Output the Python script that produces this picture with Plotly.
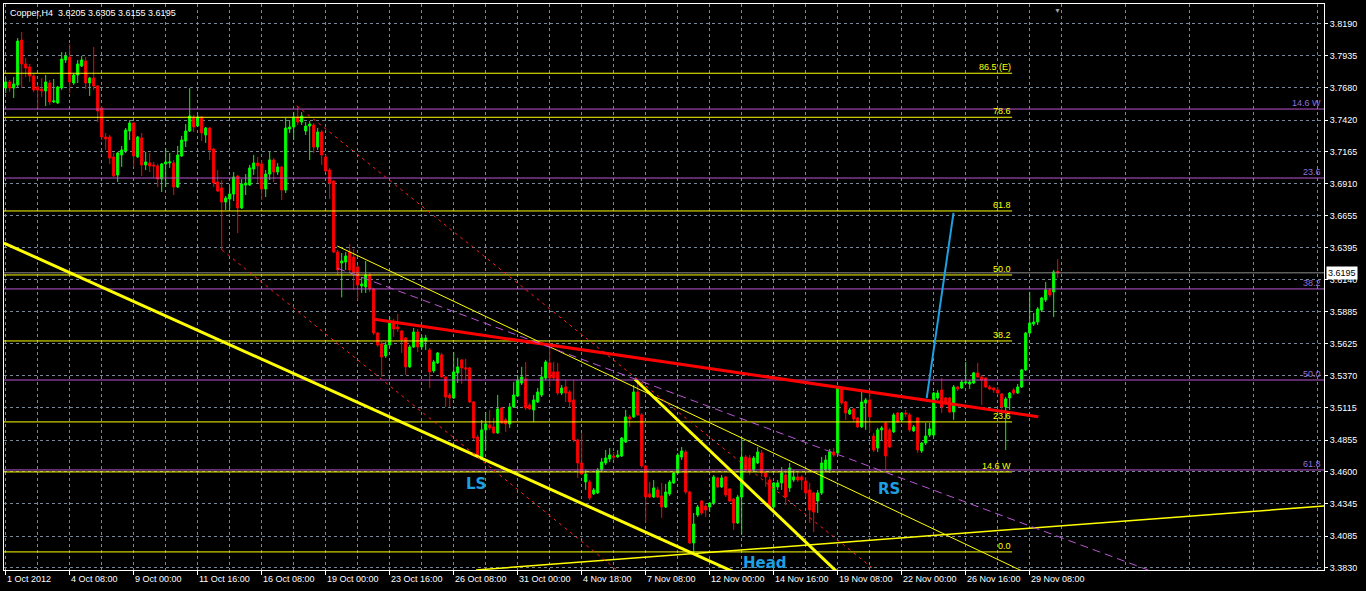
import plotly.graph_objects as go

# Copper H4, 1 Oct - 29 Nov 2012, one entry per bar
opens = [
    3.7677, 3.7725, 3.7677, 3.7701, 3.8061, 3.7869, 3.7845, 3.7773, 3.7685, 3.7669,
    3.7653, 3.7717, 3.7565, 3.7557, 3.7677, 3.7901, 3.7925, 3.7717, 3.7781, 3.7853,
    3.7893, 3.7717, 3.7757, 3.7693, 3.7516, 3.7284, 3.7284, 3.7124, 3.6979, 3.7140,
    3.7172, 3.7332, 3.7396, 3.7124, 3.7276, 3.7060, 3.7076, 3.7060, 3.7052, 3.6947,
    3.7068, 3.7076, 3.7076, 3.6883, 3.7132, 3.7252, 3.7332, 3.7444, 3.7372, 3.7444,
    3.7300, 3.7356, 3.7188, 3.6923, 3.6875, 3.6763, 3.6787, 3.6827, 3.6971, 3.6715,
    3.6899, 3.6899, 3.7028, 3.7076, 3.7068, 3.6867, 3.6987, 3.7100, 3.7003, 3.7044,
    3.6859, 3.7348, 3.7364, 3.7444, 3.7404, 3.7332, 3.7372, 3.7380, 3.7204, 3.7324,
    3.7124, 3.7019, 3.6931, 3.6362, 3.6274, 3.6282, 3.6362, 3.6322, 3.6242, 3.6090,
    3.6082, 3.6178, 3.6066, 3.5713, 3.5625, 3.5529, 3.5617, 3.5801, 3.5761, 3.5729,
    3.5673, 3.5441, 3.5601, 3.5721, 3.5601, 3.5649, 3.5577, 3.5409, 3.5473, 3.5537,
    3.5360, 3.5216, 3.5192, 3.5393, 3.5497, 3.5433, 3.5433, 3.5160, 3.4879, 3.4719,
    3.4936, 3.4976, 3.4960, 3.4912, 3.5112, 3.5016, 3.4984, 3.5120, 3.5208, 3.5312,
    3.5344, 3.5136, 3.5096, 3.5160, 3.5216, 3.5352, 3.5473, 3.5401, 3.5401, 3.5232,
    3.5280, 3.5240, 3.5176, 3.4855, 3.4671, 3.4519, 3.4519, 3.4423, 3.4431, 3.4615,
    3.4671, 3.4703, 3.4727, 3.4719, 3.4727, 3.4839, 3.5040, 3.5040, 3.5240, 3.5056,
    3.4647, 3.4423, 3.4398, 3.4455, 3.4406, 3.4318, 3.4423, 3.4511, 3.4591, 3.4719,
    3.4759, 3.4439, 3.4030, 3.4254, 3.4366, 3.4326, 3.4318, 3.4350, 3.4551, 3.4479,
    3.4559, 3.4463, 3.4382, 3.4190, 3.4398, 3.4719, 3.4711, 3.4615, 3.4671, 3.4751,
    3.4591, 3.4535, 3.4318, 3.4479, 3.4511, 3.4575, 3.4471, 3.4535, 3.4559, 3.4559,
    3.4527, 3.4455, 3.4431, 3.4366, 3.4431, 3.4615, 3.4615, 3.4759, 3.4751, 3.5264,
    3.5160, 3.5064, 3.5104, 3.5032, 3.4960, 3.5152, 3.5176, 3.4887, 3.4791, 3.4936,
    3.4992, 3.4936, 3.4920, 3.5072, 3.5016, 3.5072, 3.5056, 3.4928, 3.5032, 3.4767,
    3.4831, 3.4895, 3.4895, 3.5192, 3.5256, 3.5192, 3.5192, 3.5080, 3.5280, 3.5272,
    3.5312, 3.5304, 3.5312, 3.5393, 3.5360, 3.5352, 3.5280, 3.5272, 3.5256, 3.5224,
    3.5120, 3.5192, 3.5256, 3.5232, 3.5280, 3.5417, 3.5713, 3.5785, 3.5801, 3.5897,
    3.5978, 3.6058, 3.6042, 3.6205,
]
highs = [
    3.7757, 3.7741, 3.7765, 3.8077, 3.8126, 3.7917, 3.7869, 3.7797, 3.7701, 3.7757,
    3.7781, 3.7741, 3.7749, 3.7693, 3.7965, 3.7965, 3.8029, 3.7797, 3.7901, 3.7933,
    3.7925, 3.7765, 3.8005, 3.7701, 3.7532, 3.7316, 3.7300, 3.7156, 3.7164, 3.7212,
    3.7356, 3.7420, 3.7404, 3.7292, 3.7316, 3.7164, 3.7156, 3.7084, 3.7068, 3.7076,
    3.7196, 3.7156, 3.7100, 3.7212, 3.7292, 3.7388, 3.7677, 3.7460, 3.7460, 3.7452,
    3.7364, 3.7364, 3.7196, 3.7019, 3.6939, 3.6811, 3.6883, 3.7003, 3.6979, 3.6947,
    3.6987, 3.7060, 3.7140, 3.7124, 3.7100, 3.7019, 3.7164, 3.7116, 3.7076, 3.7052,
    3.7436, 3.7420, 3.7484, 3.7532, 3.7484, 3.7404, 3.7412, 3.7396, 3.7356, 3.7340,
    3.7140, 3.7036, 3.6939, 3.6378, 3.6354, 3.6362, 3.6426, 3.6386, 3.6258, 3.6162,
    3.6290, 3.6194, 3.6074, 3.5721, 3.5641, 3.5641, 3.5841, 3.5825, 3.5865, 3.5737,
    3.5681, 3.5617, 3.5753, 3.5745, 3.5697, 3.5697, 3.5593, 3.5497, 3.5561, 3.5553,
    3.5368, 3.5232, 3.5561, 3.5513, 3.5505, 3.5505, 3.5441, 3.5168, 3.4895, 3.5016,
    3.5080, 3.5096, 3.5032, 3.5216, 3.5120, 3.5032, 3.5152, 3.5320, 3.5377, 3.5441,
    3.5481, 3.5152, 3.5216, 3.5272, 3.5441, 3.5497, 3.5593, 3.5481, 3.5473, 3.5296,
    3.5336, 3.5256, 3.5336, 3.4863, 3.4912, 3.4615, 3.4535, 3.4471, 3.4631, 3.4711,
    3.4775, 3.4791, 3.4759, 3.4775, 3.4879, 3.5096, 3.5056, 3.5296, 3.5336, 3.5072,
    3.4655, 3.4519, 3.4535, 3.4479, 3.4511, 3.4503, 3.4535, 3.4599, 3.4751, 3.4799,
    3.4775, 3.4447, 3.4270, 3.4334, 3.4374, 3.4350, 3.4358, 3.4575, 3.4559, 3.4575,
    3.4567, 3.4471, 3.4390, 3.4415, 3.4879, 3.4735, 3.4735, 3.4727, 3.4799, 3.4775,
    3.4599, 3.4559, 3.4519, 3.4535, 3.4639, 3.4615, 3.4671, 3.4615, 3.4599, 3.4575,
    3.4559, 3.4511, 3.4439, 3.4455, 3.4719, 3.4735, 3.4783, 3.4791, 3.5280, 3.5280,
    3.5168, 3.5112, 3.5112, 3.5040, 3.5240, 3.5192, 3.5256, 3.4912, 3.4952, 3.4968,
    3.5000, 3.4952, 3.5072, 3.5080, 3.5080, 3.5096, 3.5072, 3.4976, 3.5040, 3.4839,
    3.4992, 3.4992, 3.5240, 3.5256, 3.5352, 3.5200, 3.5200, 3.5296, 3.5288, 3.5336,
    3.5481, 3.5336, 3.5401, 3.5473, 3.5377, 3.5360, 3.5296, 3.5280, 3.5280, 3.5232,
    3.5200, 3.5240, 3.5272, 3.5304, 3.5425, 3.5721, 3.6042, 3.5873, 3.5921, 3.6002,
    3.6122, 3.6074, 3.6218, 3.6305,
]
lows = [
    3.7637, 3.7645, 3.7597, 3.7685, 3.7677, 3.7765, 3.7725, 3.7645, 3.7516, 3.7605,
    3.7532, 3.7541, 3.7557, 3.7549, 3.7661, 3.7877, 3.7637, 3.7701, 3.7717, 3.7845,
    3.7669, 3.7613, 3.7661, 3.7404, 3.7260, 3.7180, 3.7068, 3.6963, 3.6923, 3.7044,
    3.7156, 3.7260, 3.7044, 3.7116, 3.6971, 3.7019, 3.7003, 3.6955, 3.6883, 3.6843,
    3.6883, 3.7036, 3.6819, 3.6875, 3.7124, 3.7204, 3.7324, 3.7324, 3.7364, 3.7252,
    3.7236, 3.7100, 3.6883, 3.6843, 3.6378, 3.6699, 3.6707, 3.6771, 3.6514, 3.6707,
    3.6819, 3.6891, 3.6979, 3.6915, 3.6779, 3.6803, 3.6939, 3.6923, 3.6979, 3.6779,
    3.6835, 3.7316, 3.7260, 3.7380, 3.7380, 3.7300, 3.7100, 3.7156, 3.7180, 3.7060,
    3.7003, 3.6787, 3.6354, 3.6178, 3.5998, 3.6218, 3.6194, 3.6058, 3.5978, 3.6034,
    3.6034, 3.6042, 3.5697, 3.5601, 3.5361, 3.5513, 3.5601, 3.5681, 3.5721, 3.5553,
    3.5377, 3.5433, 3.5593, 3.5561, 3.5577, 3.5577, 3.5272, 3.5393, 3.5465, 3.5352,
    3.5120, 3.5120, 3.5184, 3.5312, 3.5304, 3.5336, 3.5152, 3.4855, 3.4719, 3.4711,
    3.4775, 3.4936, 3.4904, 3.4904, 3.4984, 3.4920, 3.4952, 3.5112, 3.5200, 3.5296,
    3.5096, 3.5096, 3.5000, 3.5152, 3.5200, 3.5336, 3.5280, 3.5336, 3.5216, 3.5216,
    3.5160, 3.5120, 3.4839, 3.4551, 3.4575, 3.4455, 3.4374, 3.4415, 3.4423, 3.4599,
    3.4655, 3.4679, 3.4695, 3.4711, 3.4719, 3.4831, 3.4960, 3.5032, 3.5048, 3.4631,
    3.4190, 3.4390, 3.4390, 3.4390, 3.4230, 3.4310, 3.4407, 3.4503, 3.4583, 3.4695,
    3.4423, 3.4022, 3.3950, 3.4238, 3.4254, 3.4238, 3.4278, 3.4334, 3.4471, 3.4471,
    3.4398, 3.4358, 3.4134, 3.4182, 3.4102, 3.4599, 3.4575, 3.4599, 3.4663, 3.4559,
    3.4479, 3.4310, 3.4310, 3.4455, 3.4455, 3.4334, 3.4439, 3.4519, 3.4519, 3.4455,
    3.4398, 3.4190, 3.4118, 3.4270, 3.4415, 3.4599, 3.4591, 3.4719, 3.4743, 3.5136,
    3.5016, 3.5056, 3.5000, 3.4952, 3.4952, 3.4936, 3.4920, 3.4759, 3.4759, 3.4855,
    3.4615, 3.4791, 3.4912, 3.4992, 3.5000, 3.5040, 3.4920, 3.4920, 3.4751, 3.4751,
    3.4815, 3.4879, 3.4879, 3.5176, 3.5072, 3.5136, 3.5072, 3.5016, 3.5248, 3.5264,
    3.5304, 3.5264, 3.5304, 3.5352, 3.5136, 3.5272, 3.5256, 3.5232, 3.5216, 3.5096,
    3.4775, 3.5096, 3.5216, 3.5224, 3.5272, 3.5409, 3.5705, 3.5769, 3.5777, 3.5881,
    3.5962, 3.6002, 3.5841, 3.6155,
]
closes = [
    3.7725, 3.7677, 3.7709, 3.8053, 3.7869, 3.7837, 3.7773, 3.7661, 3.7661, 3.7653,
    3.7725, 3.7565, 3.7573, 3.7685, 3.7909, 3.7933, 3.7725, 3.7781, 3.7869, 3.7901,
    3.7717, 3.7757, 3.7693, 3.7492, 3.7284, 3.7268, 3.7116, 3.6971, 3.7156, 3.7180,
    3.7340, 3.7396, 3.7132, 3.7284, 3.7060, 3.7084, 3.7052, 3.7052, 3.6947, 3.7068,
    3.7084, 3.7084, 3.6883, 3.7140, 3.7260, 3.7332, 3.7452, 3.7364, 3.7444, 3.7316,
    3.7356, 3.7180, 3.6915, 3.6851, 3.6763, 3.6795, 3.6827, 3.6963, 3.6715, 3.6907,
    3.6915, 3.7036, 3.7076, 3.7052, 3.6867, 3.6987, 3.7100, 3.7003, 3.7044, 3.6859,
    3.7356, 3.7364, 3.7444, 3.7404, 3.7452, 3.7372, 3.7388, 3.7204, 3.7324, 3.7140,
    3.7011, 3.6915, 3.6362, 3.6218, 3.6290, 3.6330, 3.6218, 3.6194, 3.6098, 3.6106,
    3.6178, 3.6066, 3.5713, 3.5617, 3.5521, 3.5617, 3.5793, 3.5745, 3.5745, 3.5657,
    3.5441, 3.5601, 3.5721, 3.5601, 3.5673, 3.5673, 3.5401, 3.5481, 3.5553, 3.5360,
    3.5200, 3.5192, 3.5401, 3.5441, 3.5433, 3.5425, 3.5160, 3.4871, 3.4727, 3.4936,
    3.4984, 3.4952, 3.4912, 3.5104, 3.4992, 3.4984, 3.5120, 3.5216, 3.5336, 3.5360,
    3.5112, 3.5104, 3.5176, 3.5240, 3.5360, 3.5481, 3.5352, 3.5352, 3.5232, 3.5272,
    3.5232, 3.5160, 3.4855, 3.4671, 3.4583, 3.4583, 3.4390, 3.4455, 3.4615, 3.4679,
    3.4711, 3.4735, 3.4719, 3.4735, 3.4871, 3.5040, 3.5024, 3.5240, 3.5056, 3.4647,
    3.4398, 3.4398, 3.4471, 3.4398, 3.4318, 3.4439, 3.4519, 3.4591, 3.4735, 3.4767,
    3.4439, 3.4030, 3.4182, 3.4318, 3.4270, 3.4294, 3.4350, 3.4559, 3.4479, 3.4551,
    3.4415, 3.4366, 3.4190, 3.4398, 3.4719, 3.4615, 3.4607, 3.4711, 3.4759, 3.4591,
    3.4559, 3.4318, 3.4511, 3.4511, 3.4591, 3.4398, 3.4631, 3.4559, 3.4535, 3.4535,
    3.4431, 3.4294, 3.4278, 3.4431, 3.4671, 3.4695, 3.4759, 3.4735, 3.5272, 3.5152,
    3.5072, 3.5096, 3.5024, 3.4960, 3.5160, 3.5176, 3.5040, 3.4775, 3.4936, 3.4952,
    3.4727, 3.4799, 3.5056, 3.5000, 3.5072, 3.5064, 3.4936, 3.4960, 3.4775, 3.4831,
    3.4887, 3.4944, 3.5232, 3.5232, 3.5120, 3.5152, 3.5080, 3.5280, 3.5264, 3.5320,
    3.5320, 3.5320, 3.5393, 3.5360, 3.5336, 3.5280, 3.5264, 3.5256, 3.5232, 3.5120,
    3.5184, 3.5232, 3.5232, 3.5280, 3.5417, 3.5713, 3.5793, 3.5801, 3.5905, 3.5994,
    3.6058, 3.6018, 3.6202, 3.6195,
]
bars = list(range(len(closes)))

# time labels every 16 bars
time_label_bars = [0, 16, 32, 48, 64, 80, 96, 112, 128, 144, 160, 176, 192, 208, 224, 240, 256]
time_labels = ["1 Oct 2012", "4 Oct 08:00", "9 Oct 00:00", "11 Oct 16:00", "16 Oct 08:00",
               "19 Oct 00:00", "23 Oct 16:00", "26 Oct 08:00", "31 Oct 00:00", "4 Nov 18:00",
               "7 Nov 08:00", "12 Nov 00:00", "14 Nov 16:00", "19 Nov 08:00", "22 Nov 00:00",
               "26 Nov 16:00", "29 Nov 08:00"]
grid_bars = [8, 24, 40, 56, 72, 88, 104, 120, 136, 152, 168, 184, 200, 216, 232, 248, 264,
             280, 296, 312, 328]

price_ticks = [3.8190, 3.7935, 3.7680, 3.7420, 3.7165, 3.6910, 3.6655, 3.6395, 3.6140,
               3.5885, 3.5625, 3.5370, 3.5115, 3.4855, 3.4600, 3.4345, 3.4085, 3.3830]

# fibonacci levels
fib_yellow_names = ["86.5 (E)", "78.6", "61.8", "50.0", "38.2", "23.6", "14.6 W", "0.0"]
fib_yellow_levels = [3.7795, 3.7442, 3.6691, 3.6178, 3.5649, 3.5000, 3.4599, 3.3958]
fib_yellow_end = 251.6
fib_purple_names = ["14.6 W", "23.6", "38.2", "50.0", "61.8"]
fib_purple_levels = [3.7508, 3.6955, 3.6066, 3.5336, 3.4615]

# trend lines: (bar, bar), (price, price)
trend_lines = {
    "long_yellow": ([-0.43, 182.75], [3.6434, 3.3787]),
    "head_yellow": ([157.3, 209.0], [3.5342, 3.3762]),
    "thin_yellow": ([82.9, 256.0], [3.6410, 3.3776]),
    "rising_yellow": ([117.6, 329.6], [3.3813, 3.4326]),
    "neckline": ([92.15, 258.15], [3.5823, 3.5042]),
    "target": ([230.25, 236.95], [3.5190, 3.6675]),
    "purple_dash": ([82.9, 285.6], [3.6232, 3.3813]),
    "red_dot_upper": ([72.75, 217.3], [3.7535, 3.3813]),
    "red_dot_lower": ([54.1, 152.8], [3.6378, 3.3813]),
}
line_styles = {
    "long_yellow": dict(color="#ffff00", width=3),
    "head_yellow": dict(color="#ffff00", width=3),
    "thin_yellow": dict(color="#ffff00", width=1),
    "rising_yellow": dict(color="#ffff00", width=1.5),
    "neckline": dict(color="#ff0000", width=3),
    "target": dict(color="#1e9fe0", width=2),
    "purple_dash": dict(color="#ba55d3", width=1, dash="8px,5px"),
    "red_dot_upper": dict(color="#ff2020", width=1, dash="3px,4px"),
    "red_dot_lower": dict(color="#ff2020", width=1, dash="3px,4px"),
}

patterns = ["LS", "Head", "RS"]
pattern_bars = [117.6, 189.8, 220.8]
pattern_prices = [3.4503, 3.3870, 3.4463]

last_price = 3.6195
x_range = [-0.425, 329.575]
y_range = [3.3813, 3.8350]

FONT = "Liberation Sans"

fig = go.Figure()

fig.add_trace(go.Candlestick(
    x=bars, open=opens, high=highs, low=lows, close=closes,
    increasing=dict(line=dict(color="#00ff00", width=1), fillcolor="#00ff00"),
    decreasing=dict(line=dict(color="#ff0000", width=1), fillcolor="#ff0000"),
    whiskerwidth=0, hoverinfo="skip", showlegend=False,
))

# current price line (full width)
fig.add_trace(go.Scatter(x=x_range, y=[last_price, last_price], mode="lines",
                         line=dict(color="#8c8c8c", width=1), hoverinfo="skip", showlegend=False))

for lvl in fib_purple_levels:
    fig.add_trace(go.Scatter(x=x_range, y=[lvl, lvl], mode="lines",
                             line=dict(color="#ba55d3", width=1), hoverinfo="skip", showlegend=False))
for lvl in fib_yellow_levels:
    fig.add_trace(go.Scatter(x=[x_range[0], fib_yellow_end], y=[lvl, lvl], mode="lines",
                             line=dict(color="#ffff00", width=1), hoverinfo="skip", showlegend=False))

for name, (xs, ys) in trend_lines.items():
    fig.add_trace(go.Scatter(x=xs, y=ys, mode="lines", line=line_styles[name],
                             hoverinfo="skip", showlegend=False))

annotations = []
for name, lvl in zip(fib_yellow_names, fib_yellow_levels):
    annotations.append(dict(x=fib_yellow_end, y=lvl, xref="x", yref="y", text=name,
                            showarrow=False, xanchor="right", yanchor="bottom", borderpad=0,
                            font=dict(family=FONT, size=9, color="#ffff00")))
for name, lvl in zip(fib_purple_names, fib_purple_levels):
    annotations.append(dict(x=1, y=lvl, xref="paper", yref="y", text=name, xshift=-2,
                            showarrow=False, xanchor="right", yanchor="bottom", borderpad=0,
                            font=dict(family=FONT, size=9, color="#9370db")))
for name, b, p in zip(patterns, pattern_bars, pattern_prices):
    annotations.append(dict(x=b, y=p, xref="x", yref="y", text="<b>%s</b>" % name,
                            showarrow=False, font=dict(family="DejaVu Sans", size=15, color="#1e9fe0")))
for b, lab in zip(time_label_bars, time_labels):
    annotations.append(dict(x=b, y=0, xref="x", yref="paper", text=lab, showarrow=False,
                            xanchor="left", yanchor="top", xshift=-1, yshift=-2,
                            font=dict(family=FONT, size=9, color="#ffffff")))
annotations.append(dict(x=0.003, y=0.997, xref="paper", yref="paper", xanchor="left", yanchor="top",
                        text="Copper,H4  3.6205 3.6305 3.6155 3.6195", showarrow=False,
                        font=dict(family=FONT, size=9, color="#ffffff")))
annotations.append(dict(x=1, y=last_price, xref="paper", yref="y", xanchor="left", xshift=2,
                        text="%.4f" % last_price, showarrow=False, bgcolor="#ffffff", borderpad=1,
                        font=dict(family=FONT, size=9, color="#000000")))
annotations.append(dict(x=263, y=1, xref="x", yref="paper", yanchor="top", text="▼", showarrow=False,
                        font=dict(size=7, color="#a0a0a0")))

fig.update_layout(
    width=1366, height=591,
    margin=dict(l=4, r=42, t=4, b=21, autoexpand=False),
    paper_bgcolor="#000000", plot_bgcolor="#000000",
    boxgap=0.25,
    annotations=annotations,
    xaxis=dict(range=x_range, rangeslider=dict(visible=False), showline=True, mirror=True,
               linecolor="#ffffff", linewidth=1, tickmode="array", tickvals=time_label_bars,
               showticklabels=False, ticks="outside", ticklen=4, tickcolor="#ffffff",
               showgrid=True, gridcolor="#778899", griddash="dot", zeroline=False,
               minor=dict(tickmode="array", tickvals=grid_bars, showgrid=True,
                          gridcolor="#778899", griddash="dot", ticks="")),
    yaxis=dict(range=y_range, side="right", showline=True, mirror=True, linecolor="#ffffff",
               linewidth=1, tickmode="array", tickvals=price_ticks,
               ticktext=["%.4f" % v for v in price_ticks], ticks="outside", ticklen=3,
               tickcolor="#ffffff", tickfont=dict(family=FONT, size=9, color="#ffffff"),
               showgrid=True, gridcolor="#778899", griddash="dot", zeroline=False),
)

# the page body has a default 8px margin; drop it so the chart sits at the window corner
fig.write_html("out.html", config={"displayModeBar": False},
               post_script="document.body.style.margin='0px';")
